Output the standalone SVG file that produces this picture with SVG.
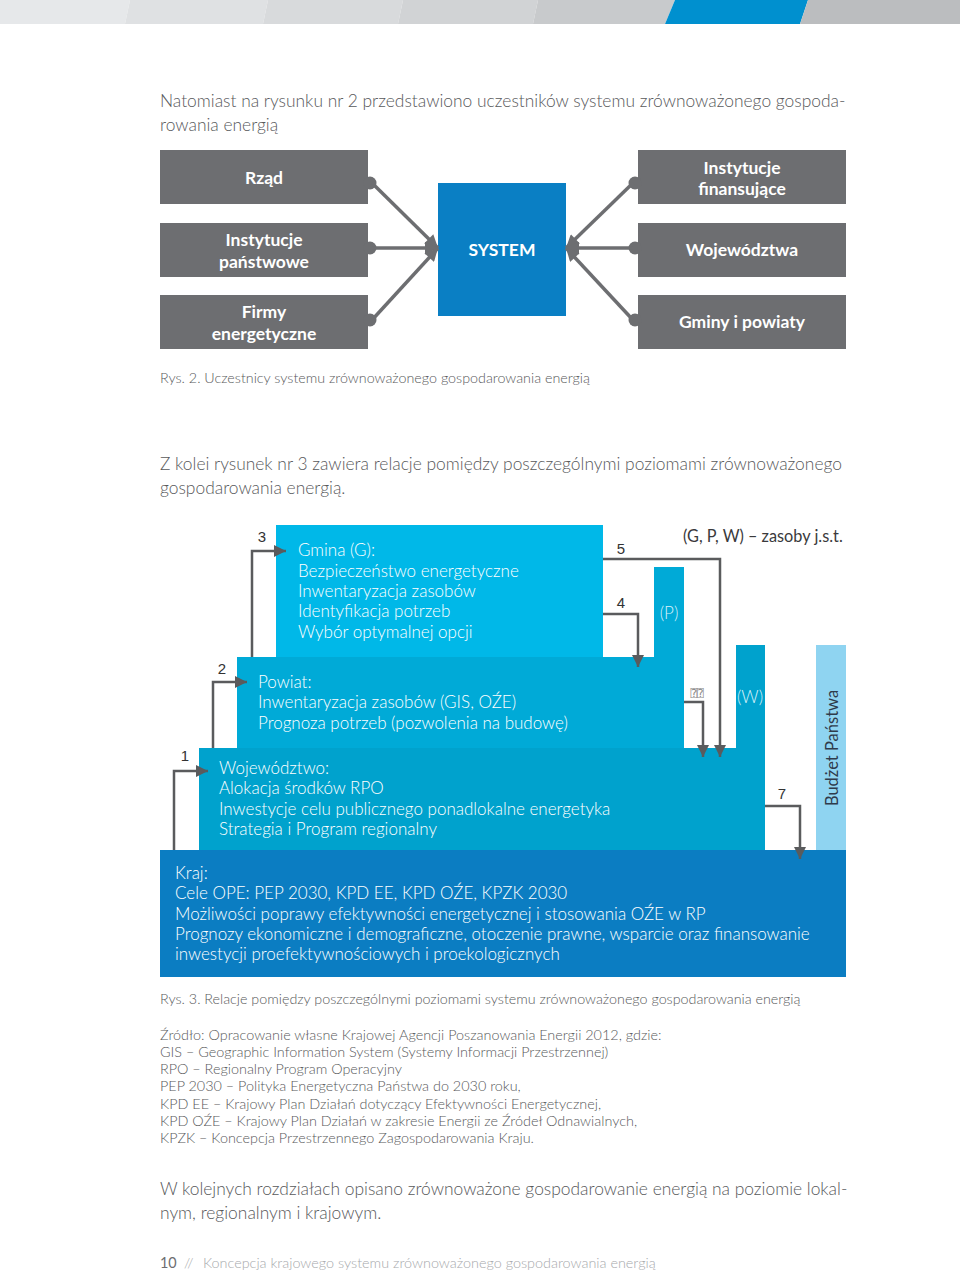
<svg xmlns="http://www.w3.org/2000/svg" width="960" height="1273" viewBox="0 0 960 1273">
<style>
.body{font-family:Lato,"Open Sans","Liberation Sans",sans-serif;font-weight:300;fill:#58595b}
.p{font-size:17.4px}
.cap{font-size:14.3px}
.src{font-size:14.4px}
.bx{font-family:Lato,"Open Sans","Liberation Sans",sans-serif;font-weight:700;font-size:17.5px;fill:#fff;text-anchor:middle}
.in{font-family:Lato,"Open Sans","Liberation Sans",sans-serif;font-weight:300;font-size:17px;fill:#fff}
.num{font-family:"Liberation Sans",Arial,sans-serif;font-size:15px;fill:#333}
.c1{stroke:#6d6e71;stroke-width:3.5;fill:none}
.c2{stroke:#5a5b5d;stroke-width:2.5;fill:none}
.g{fill:#6d6e71}
</style>
<defs>
<marker id="a1" viewBox="0 0 10 10" refX="10" refY="5" markerUnits="userSpaceOnUse" markerWidth="15" markerHeight="13" orient="auto"><path d="M0,0 L10,5 L0,10 z" fill="#6d6e71"/></marker>
<marker id="a2" viewBox="0 0 10 10" refX="10" refY="5" markerUnits="userSpaceOnUse" markerWidth="12" markerHeight="13" orient="auto"><path d="M0,0 L10,5 L0,10 z" fill="#5a5b5d"/></marker>
</defs>
<rect width="960" height="1273" fill="#fff"/>
<!-- header bar -->
<g id="header">
<polygon points="0,0 130,0 125,24 0,24" fill="#e6e8ea"/>
<polygon points="130,0 268,0 263,24 125,24" fill="#dfe1e3"/>
<polygon points="268,0 403,0 398,24 263,24" fill="#d8dadc"/>
<polygon points="403,0 538,0 533,24 398,24" fill="#d1d3d5"/>
<polygon points="538,0 675,0 665,24 533,24" fill="#c8cacc"/>
<polygon points="675,0 808,0 800,24 665,24" fill="#0090cf"/>
<polygon points="808,0 960,0 960,24 800,24" fill="#bbbdbf"/>
</g>
<text class="body p" x="160" y="107">Natomiast na rysunku nr 2 przedstawiono uczestników systemu zrównoważonego gospoda-</text>
<text class="body p" x="160" y="131">rowania energią</text>
<!-- diagram 1 -->
<g id="rzad"><rect class="g" x="160" y="150" width="208" height="54"/><circle class="g" cx="370" cy="183" r="6.5"/><text class="bx" x="264" y="184">Rząd</text></g>
<g id="instytucje-panstwowe"><rect class="g" x="160" y="223" width="208" height="54"/><circle class="g" cx="370" cy="248" r="6.5"/><text class="bx" x="264" y="246">Instytucje</text><text class="bx" x="264" y="268">państwowe</text></g>
<g id="firmy"><rect class="g" x="160" y="295" width="208" height="54"/><circle class="g" cx="370" cy="320" r="6.5"/><text class="bx" x="264" y="318">Firmy</text><text class="bx" x="264" y="340">energetyczne</text></g>
<g id="system"><rect x="438" y="183" width="128" height="133" fill="#0a7fc4"/><text class="bx" x="502" y="256">SYSTEM</text></g>
<g id="instytucje-finansujace"><rect class="g" x="638" y="150" width="208" height="54"/><circle class="g" cx="635" cy="183" r="6.5"/><text class="bx" x="742" y="174">Instytucje</text><text class="bx" x="742" y="195">finansujące</text></g>
<g id="wojewodztwa"><rect class="g" x="638" y="223" width="208" height="54"/><circle class="g" cx="635" cy="248" r="6.5"/><text class="bx" x="742" y="256">Województwa</text></g>
<g id="gminy"><rect class="g" x="638" y="295" width="208" height="54"/><circle class="g" cx="635" cy="320" r="6.5"/><text class="bx" x="742" y="328">Gminy i powiaty</text></g>
<g id="connectors1">
<line class="c1" x1="372" y1="183" x2="438" y2="248" marker-end="url(#a1)"/>
<line class="c1" x1="372" y1="248" x2="438" y2="248" marker-end="url(#a1)"/>
<line class="c1" x1="372" y1="320" x2="438" y2="248" marker-end="url(#a1)"/>
<line class="c1" x1="633" y1="183" x2="566" y2="248" marker-end="url(#a1)"/>
<line class="c1" x1="633" y1="248" x2="566" y2="248" marker-end="url(#a1)"/>
<line class="c1" x1="633" y1="320" x2="566" y2="248" marker-end="url(#a1)"/>
</g>
<text class="body cap" x="160" y="383">Rys. 2. Uczestnicy systemu zrównoważonego gospodarowania energią</text>
<text class="body p" x="160" y="470">Z kolei rysunek nr 3 zawiera relacje pomiędzy poszczególnymi poziomami zrównoważonego</text>
<text class="body p" x="160" y="494">gospodarowania energią.</text>
<!-- diagram 2 -->
<g id="kraj"><rect x="160" y="850" width="686" height="127" fill="#0b7dc2"/>
<text class="in" x="175" y="879">Kraj:</text>
<text class="in" x="175" y="899">Cele OPE: PEP 2030, KPD EE, KPD OŹE, KPZK 2030</text>
<text class="in" x="175" y="920">Możliwości poprawy efektywności energetycznej i stosowania OŹE w RP</text>
<text class="in" x="175" y="940">Prognozy ekonomiczne i demograficzne, otoczenie prawne, wsparcie oraz finansowanie</text>
<text class="in" x="175" y="960">inwestycji proefektywnościowych i proekologicznych</text></g>
<g id="budzet"><rect x="816" y="645" width="30" height="205" fill="#8fd4f1"/><text transform="translate(838,748) rotate(-90)" text-anchor="middle" style="font-family:Lato,'Open Sans','Liberation Sans',sans-serif;font-size:16.5px;fill:#2f3b4b">Budżet Państwa</text></g>
<g id="wojewodztwo"><rect x="199" y="748" width="566" height="102" fill="#00a2cd"/><rect x="736" y="645" width="29" height="103" fill="#00a2cd"/>
<text class="in" x="750" y="703" text-anchor="middle" style="fill:#d9f1fa">(W)</text>
<text class="in" x="219" y="774">Województwo:</text>
<text class="in" x="219" y="794">Alokacja środków RPO</text>
<text class="in" x="219" y="815">Inwestycje celu publicznego ponadlokalne energetyka</text>
<text class="in" x="219" y="835">Strategia i Program regionalny</text></g>
<g id="powiat"><rect x="237" y="657" width="447" height="91" fill="#00aad7"/><rect x="654" y="567" width="30" height="90" fill="#00aad7"/>
<text class="in" x="669" y="619" text-anchor="middle" style="fill:#d9f1fa">(P)</text>
<text class="in" x="258" y="688">Powiat:</text>
<text class="in" x="258" y="708">Inwentaryzacja zasobów (GIS, OŹE)</text>
<text class="in" x="258" y="729">Prognoza potrzeb (pozwolenia na budowę)</text></g>
<g id="gmina"><rect x="276" y="525" width="327" height="132" fill="#00b8e8"/>
<text class="in" x="298" y="556">Gmina (G):</text>
<text class="in" x="298" y="577">Bezpieczeństwo energetyczne</text>
<text class="in" x="298" y="597">Inwentaryzacja zasobów</text>
<text class="in" x="298" y="617">Identyfikacja potrzeb</text>
<text class="in" x="298" y="638">Wybór optymalnej opcji</text></g>
<text x="683" y="542" style="font-family:Lato,'Open Sans','Liberation Sans',sans-serif;font-size:16.3px;fill:#3a3a3c">(G, P, W) – zasoby j.s.t.</text>
<g id="connectors2">
<polyline class="c2" points="252,657 252,551 286,551" marker-end="url(#a2)"/>
<polyline class="c2" points="213,748 213,682 247,682" marker-end="url(#a2)"/>
<polyline class="c2" points="174,850 174,771 208,771" marker-end="url(#a2)"/>
<polyline class="c2" points="603,614 638,614 638,667" marker-end="url(#a2)"/>
<polyline class="c2" points="603,559 720,559 720,757" marker-end="url(#a2)"/>
<polyline class="c2" points="684,702 703,702 703,757" marker-end="url(#a2)"/>
<polyline class="c2" points="765,806 800,806 800,859" marker-end="url(#a2)"/>
</g>
<g id="labels2">
<text class="num" x="262" y="542" text-anchor="middle">3</text>
<text class="num" x="222" y="674" text-anchor="middle">2</text>
<text class="num" x="185" y="761" text-anchor="middle">1</text>
<text class="num" x="621" y="608" text-anchor="middle">4</text>
<text class="num" x="621" y="554" text-anchor="middle">5</text>
<text class="num" x="782" y="799" text-anchor="middle">7</text>
<text x="697" y="697" text-anchor="middle" style="font-family:'DejaVu Sans Mono','DejaVu Sans',monospace;font-size:11px;fill:#888">⍰⍰</text>
</g>
<text class="body cap" x="160" y="1004">Rys. 3. Relacje pomiędzy poszczególnymi poziomami systemu zrównoważonego gospodarowania energią</text>
<g class="body src">
<text x="160" y="1040">Źródło: Opracowanie własne Krajowej Agencji Poszanowania Energii 2012, gdzie:</text>
<text x="160" y="1057">GIS – Geographic Information System (Systemy Informacji Przestrzennej)</text>
<text x="160" y="1074">RPO – Regionalny Program Operacyjny</text>
<text x="160" y="1091">PEP 2030 – Polityka Energetyczna Państwa do 2030 roku,</text>
<text x="160" y="1109">KPD EE – Krajowy Plan Działań dotyczący Efektywności Energetycznej,</text>
<text x="160" y="1126">KPD OŹE – Krajowy Plan Działań w zakresie Energii ze Źródeł Odnawialnych,</text>
<text x="160" y="1143">KPZK – Koncepcja Przestrzennego Zagospodarowania Kraju.</text>
</g>
<text class="body p" x="160" y="1195">W kolejnych rozdziałach opisano zrównoważone gospodarowanie energią na poziomie lokal-</text>
<text class="body p" x="160" y="1219">nym, regionalnym i krajowym.</text>
<text x="160" y="1268" style="font-family:Lato,'Open Sans',sans-serif;font-size:14.4px;fill:#6d6e71">10</text>
<text x="184" y="1268" style="font-family:Lato,'Open Sans',sans-serif;font-weight:300;font-size:14.4px;fill:#a7a9ac">//</text>
<text x="203" y="1268" style="font-family:Lato,'Open Sans',sans-serif;font-weight:300;font-size:14.4px;fill:#a7a9ac">Koncepcja krajowego systemu zrównoważonego gospodarowania energią</text>
</svg>
